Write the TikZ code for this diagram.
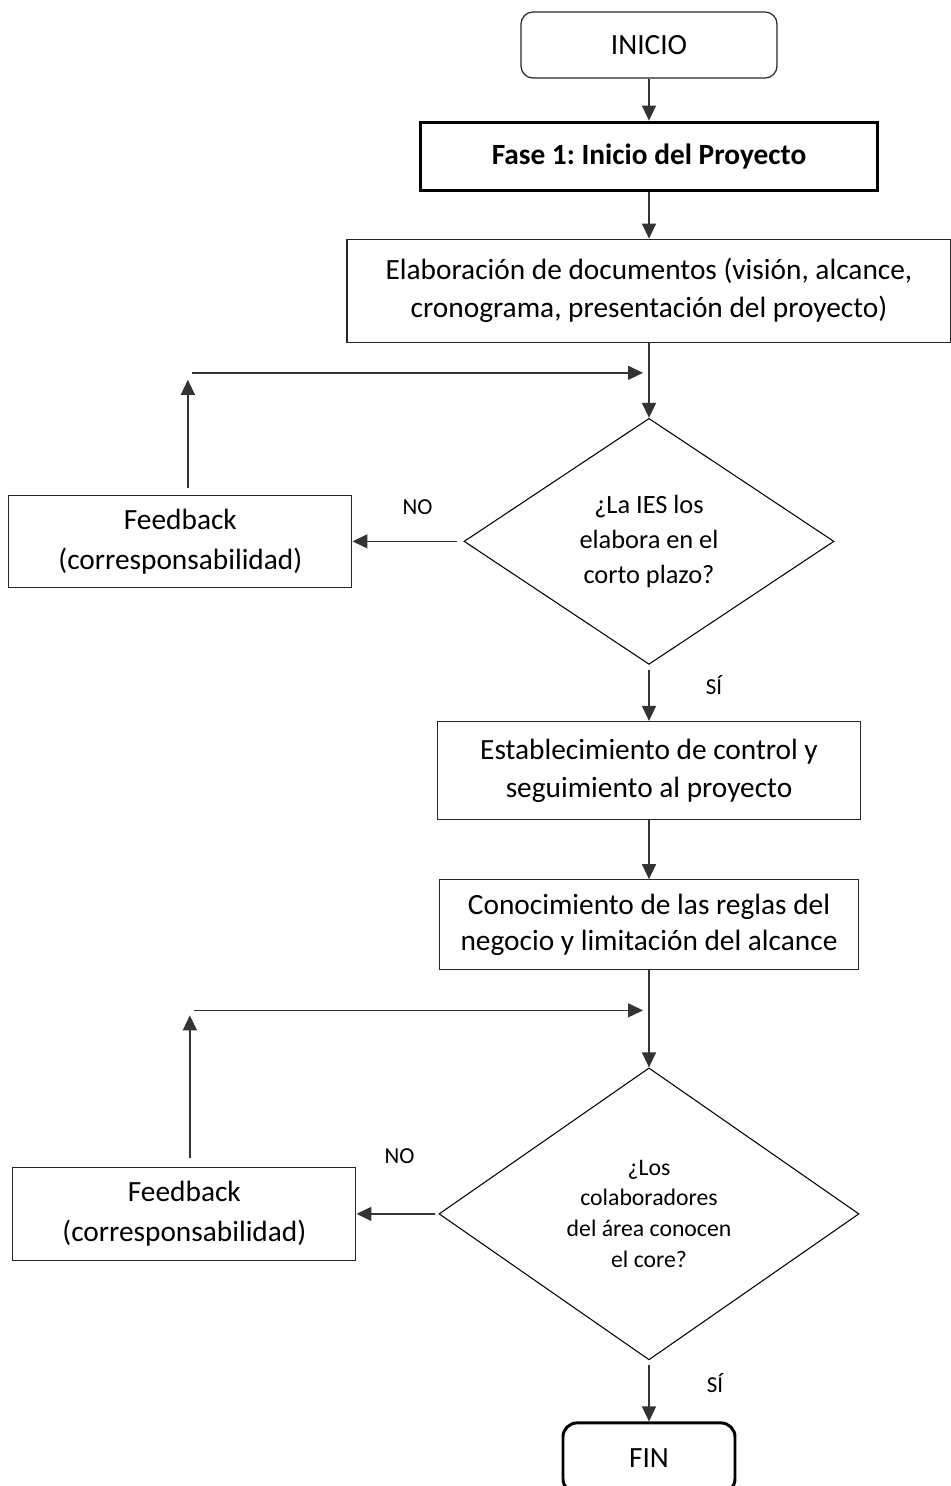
\documentclass[tikz,border=0pt]{standalone}
\usepackage{fontspec}
\setmainfont{Carlito}
\usetikzlibrary{arrows.meta,positioning,calc,shapes.geometric}
\definecolor{Ink}{HTML}{262626}
\definecolor{Wire}{HTML}{333333}
\frenchspacing
\tikzset{
  box/.style={draw=Ink,fill=white,line width=.7pt,align=center,inner sep=0pt,font=\fontsize{16.7pt}{21.6pt}\selectfont},
  term/.style={box,rounded corners=.24cm},
  phase/.style={box,draw=black,line width=1.7pt,font=\bfseries\fontsize{16.7pt}{21.6pt}\selectfont},
  endterm/.style={phase,rounded corners=.28cm,font=\fontsize{16.7pt}{21.6pt}\selectfont},
  decision/.style={diamond,draw=black,fill=white,line width=.6pt,align=center,inner sep=0pt,aspect=1.5},
  answer/.style={font=\fontsize{13pt}{15pt}\selectfont,inner sep=0pt},
  flow/.style={-{Triangle[length=.3cm,width=.28cm]},draw=Wire,line width=.85pt}
}
\begin{document}
\begin{tikzpicture}
      \useasboundingbox (0,0) rectangle (19.02,-29.72);
      \clip (0,0) rectangle (19.02,-29.72);
      \node[term,minimum width=5.12cm,minimum height=1.32cm] (inicio) at (12.98,-.9) {INICIO};
      \node[phase,minimum width=9.14cm,minimum height=1.36cm,below=.84cm of inicio] (fase) {Fase 1: Inicio del Proyecto};
      \node[box,minimum width=12.08cm,minimum height=2.06cm,below=.94cm of fase] (elab) {Elaboración de documentos (visión, alcance,\\cronograma, presentación del proyecto)};
      \node[decision,minimum width=7.4cm,minimum height=4.92cm,below=1.5cm of elab,font=\fontsize{15pt}{20pt}\selectfont] (d1) {¿La IES los\\elabora en el\\corto plazo?};
      \node[box,minimum width=6.86cm,minimum height=1.84cm,left=2.22cm of d1,font=\fontsize{16.7pt}{22.8pt}\selectfont] (fb1) {Feedback\\(corresponsabilidad)};
      \node[box,minimum width=8.46cm,minimum height=1.96cm,below=1.12cm of d1] (estab) {Establecimiento de control y\\seguimiento al proyecto};
      \node[box,minimum width=8.38cm,minimum height=1.8cm,below=1.18cm of estab,font=\fontsize{16.7pt}{20.5pt}\selectfont] (conoc) {Conocimiento de las reglas del\\negocio y limitación del alcance};
      \node[decision,minimum width=8.4cm,minimum height=5.84cm,below=1.94cm of conoc,font=\fontsize{13.5pt}{17.6pt}\selectfont] (d2) {¿Los\\colaboradores\\del área conocen\\el core?};
      \node[box,minimum width=6.86cm,minimum height=1.86cm,left=1.64cm of d2,font=\fontsize{16.7pt}{22.8pt}\selectfont] (fb2) {Feedback\\(corresponsabilidad)};
      \node[endterm,minimum width=3.44cm,minimum height=1.4cm,below=1.22cm of d2] (fin) {FIN};
      \node[answer] (no1) at ($(d1.west)+(-.92,.68)$) {NO};
      \node[answer] (si1) at ($(d1.south)+(1.3,-.4)$) {SÍ};
      \node[answer] (no2) at ($(d2.west)+(-.78,1.16)$) {NO};
      \node[answer] (si2) at ($(d2.south)+(1.32,-.46)$) {SÍ};
      \coordinate (j1) at ($(elab.south)+(0,-.6)$);
      \coordinate (t1) at ($(fb1.north |- j1)+(.15,0)$);
      \coordinate (j2) at ($(conoc.south)+(0,-.8)$);
      \coordinate (t2) at ($(fb2.north |- j2)+(.11,0)$);
      \draw[flow] (inicio) -- (fase);
      \draw[flow] (fase) -- (elab);
      \draw[flow] (elab) -- (d1);
      \draw[flow,shorten <=.12cm] (d1) -- (fb1);
      \draw[flow,shorten <=.14cm] (t1 |- fb1.north) -- ([yshift=-.14cm]t1);
      \draw[flow] ([xshift=.08cm]t1) -- ([xshift=-.12cm]j1);
      \draw[flow,shorten <=.1cm] (d1) -- (estab);
      \draw[flow] (estab) -- (conoc);
      \draw[flow] (conoc) -- (d2);
      \draw[flow,shorten <=.06cm] (d2) -- (fb2);
      \draw[flow,shorten <=.18cm] (t2 |- fb2.north) -- ([yshift=-.1cm]t2);
      \draw[flow] ([xshift=.08cm]t2) -- ([xshift=-.12cm]j2);
      \draw[flow,shorten <=.1cm] (d2) -- (fin);
    \end{tikzpicture}
\end{document}
